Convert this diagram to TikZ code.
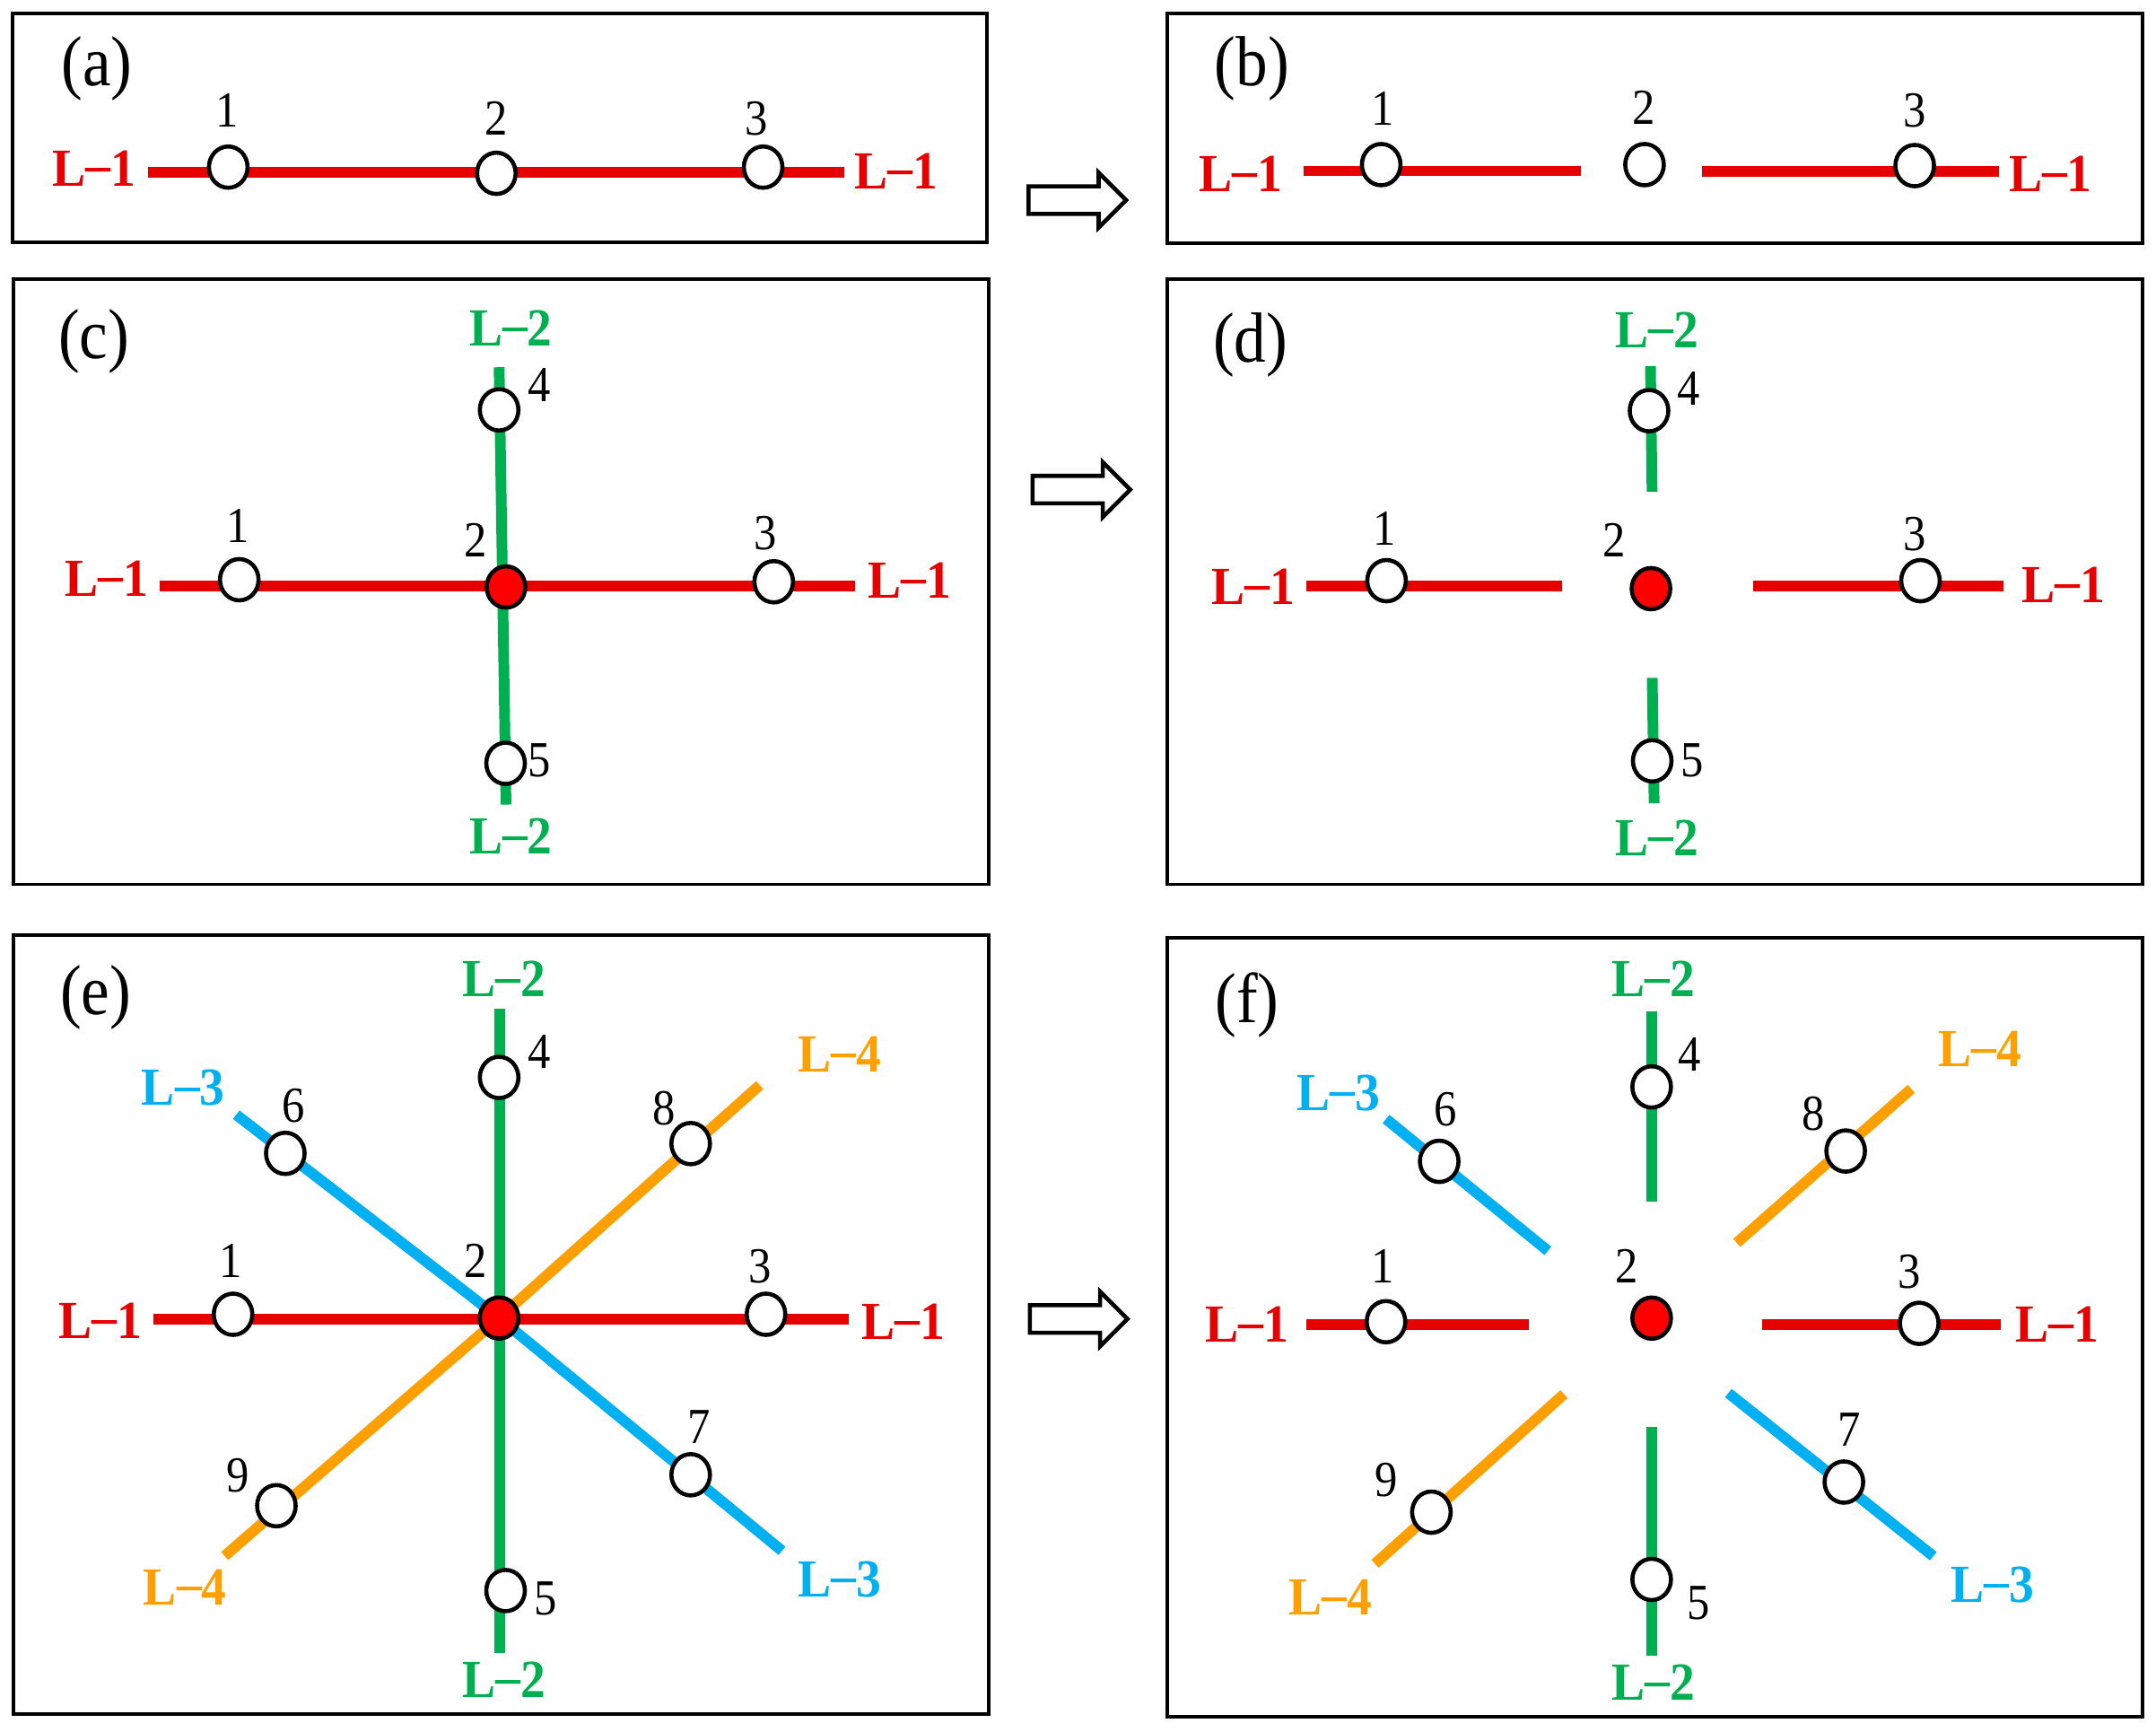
\documentclass[tikz,border=0pt]{standalone}
\usepackage{fontspec}
\setmainfont{Liberation Serif}
\newfontfamily\numfont[FakeStretch=0.9]{Liberation Serif}
\newfontfamily\labfont[FakeStretch=0.93]{Liberation Serif}
\usetikzlibrary{shapes.geometric}
\pgfdeclarelayer{bg}
\pgfdeclarelayer{paper}
\pgfsetlayers{paper,bg,main}
\definecolor{lred}{HTML}{E60000}
\definecolor{hubred}{HTML}{FF0000}
\definecolor{lgreen}{HTML}{00B050}
\definecolor{lcyan}{HTML}{00B0F0}
\definecolor{lorange}{HTML}{FF9F00}
\newcommand\Lname[1]{L\raisebox{0.06em}{–}#1}
\tikzset{
  panel/.style={draw=black, line width=1.1pt},
  vtx/.style={ellipse, draw=black, line width=1.3pt, fill=white, minimum width=0.43cm, minimum height=0.46cm, inner sep=0pt},
  hub/.style={vtx, fill=hubred},
  num/.style={inner sep=0pt, font=\numfont\fontsize{16}{18}\selectfont},
  tag/.style={inner sep=0pt, font=\numfont\fontsize{22.5}{25}\selectfont},
  lab/.style={inner sep=0pt, font=\labfont\bfseries\fontsize{17}{20}\selectfont},
  road/.style={line width=3.4pt},
  shiftarrow/.style={draw=black, line width=1.3pt, fill=white, line join=miter},
}
\begin{document}
\begin{tikzpicture}[x=0.015325cm, y=-0.015325cm]
\useasboundingbox (0,0) rectangle (1568,1259);
\begin{pgfonlayer}{paper}
\fill[white] (0,0) rectangle (1568,1259);
\end{pgfonlayer}

% ---------------- panel frames ----------------
\draw[panel] (9,10) rectangle (718,176);
\draw[panel] (849,10) rectangle (1558,177);
\draw[panel] (10,203) rectangle (719,643);
\draw[panel] (849,203) rectangle (1558,643);
\draw[panel] (10,680) rectangle (719,1246);
\draw[panel] (849,682) rectangle (1558,1248);

% ---------------- hollow arrows ----------------
\coordinate (arA) at (748,145.5);
\coordinate (arB) at (751,356);
\coordinate (arC) at (749,959);
\foreach \a in {arA,arB,arC}{
  \draw[shiftarrow] (\a) ++(0,-10) -- ++(51,0) -- ++(0,-10) -- ++(20,20) -- ++(-20,20) -- ++(0,-10) -- ++(-51,0) -- cycle;
}

% ================= (a) =================
\node[tag] (ta) at (70.5,50) {(a)};
\node[vtx] (a1) at (166,121.5) {};
\node[vtx] (a2) at (361,126) {};
\node[vtx] (a3) at (555,121.5) {};
\node[num] (na1) at (165,80.5) {1};
\node[num] (na2) at (361,86) {2};
\node[num] (na3) at (550,86) {3};
\node[lab, text=lred] (aLl) at (68.5,122.5) {\Lname{1}};
\node[lab, text=lred] (aLr) at (652,124.5) {\Lname{1}};
\coordinate (ae1) at (107.5,125);
\coordinate (ae2) at (614,125);
\begin{pgfonlayer}{bg}
\draw[road, lred] (ae1) -- (ae2);
\end{pgfonlayer}

% ================= (b) =================
\node[tag] (tb) at (910.5,50) {(b)};
\node[vtx] (b1) at (1004.5,119.7) {};
\node[vtx] (b2) at (1196,119.7) {};
\node[vtx] (b3) at (1392.5,120.4) {};
\node[num] (nb1) at (1005.5,79) {1};
\node[num] (nb2) at (1195.5,78) {2};
\node[num] (nb3) at (1392.5,80.3) {3};
\node[lab, text=lred] (bLl) at (902.3,126.3) {\Lname{1}};
\node[lab, text=lred] (bLr) at (1491.2,126.3) {\Lname{1}};
\coordinate (be1) at (948,124.3);
\coordinate (be2) at (1150,124.3);
\coordinate (be3) at (1237.5,124.8);
\coordinate (be4) at (1454,124.8);
\begin{pgfonlayer}{bg}
\draw[road, lred] (be1) -- (be2);
\draw[road, lred] (be3) -- (be4);
\end{pgfonlayer}

% ================= (c) =================
\node[tag] (tc) at (68.3,248) {(c)};
\node[vtx] (c1) at (174,421.5) {};
\node[hub] (c2) at (368,426.8) {};
\node[vtx] (c3) at (562.7,423) {};
\node[vtx] (c4) at (363,298) {};
\node[vtx] (c5) at (367.7,555) {};
\node[num] (nc1) at (172.7,382) {1};
\node[num] (nc2) at (346,392.6) {2};
\node[num] (nc3) at (557,387.6) {3};
\node[num] (nc4) at (392,279.7) {4};
\node[num] (nc5) at (392,552.8) {5};
\node[lab, text=lred] (cLl) at (77.8,420.6) {\Lname{1}};
\node[lab, text=lred] (cLr) at (661.6,422) {\Lname{1}};
\node[lab, text=lgreen] (cGt) at (371.5,238.4) {\Lname{2}};
\node[lab, text=lgreen] (cGb) at (371.5,608) {\Lname{2}};
\coordinate (ce1) at (116,426.3);
\coordinate (ce2) at (622,426.3);
\coordinate (cg1) at (363,267);
\coordinate (cg2) at (368,585);
\begin{pgfonlayer}{bg}
\draw[road, lgreen] (cg1) -- (cg2);
\draw[road, lred] (ce1) -- (ce2);
\end{pgfonlayer}

% ================= (d) =================
\node[tag] (td) at (909.3,251) {(d)};
\node[vtx] (d1) at (1008.4,422.2) {};
\node[hub] (d2) at (1200.7,428) {};
\node[vtx] (d3) at (1396.7,422.2) {};
\node[vtx] (d4) at (1199.3,298.6) {};
\node[vtx] (d5) at (1201.6,553.2) {};
\node[num] (nd1) at (1007,384) {1};
\node[num] (nd2) at (1173.7,392.8) {2};
\node[num] (nd3) at (1392.5,388.4) {3};
\node[num] (nd4) at (1228.2,282.4) {4};
\node[num] (nd5) at (1230.5,553.2) {5};
\node[lab, text=lred] (dLl) at (911.6,426.6) {\Lname{1}};
\node[lab, text=lred] (dLr) at (1500.6,425.2) {\Lname{1}};
\node[lab, text=lgreen] (dGt) at (1205,239.7) {\Lname{2}};
\node[lab, text=lgreen] (dGb) at (1205,609) {\Lname{2}};
\coordinate (de1) at (949.8,426.1);
\coordinate (de2) at (1136,426.1);
\coordinate (de3) at (1274.8,426.1);
\coordinate (de4) at (1457.3,426.1);
\coordinate (dg1) at (1200.3,266.2);
\coordinate (dg2) at (1201.5,357.5);
\coordinate (dg3) at (1201.6,492.9);
\coordinate (dg4) at (1203,584.1);
\begin{pgfonlayer}{bg}
\draw[road, lred] (de1) -- (de2);
\draw[road, lred] (de3) -- (de4);
\draw[road, lgreen] (dg1) -- (dg2);
\draw[road, lgreen] (dg3) -- (dg4);
\end{pgfonlayer}

% ================= (e) =================
\node[tag] (te) at (69.6,725) {(e)};
\node[vtx] (e1) at (169.5,955.6) {};
\node[hub] (e2) at (363,958.3) {};
\node[vtx] (e3) at (557.1,955.6) {};
\node[vtx] (e4) at (363,783.4) {};
\node[vtx] (e5) at (367.7,1156.5) {};
\node[vtx] (e6) at (207.5,838.6) {};
\node[vtx] (e7) at (502.3,1072.3) {};
\node[vtx] (e8) at (502.3,831.5) {};
\node[vtx] (e9) at (201,1094.8) {};
\node[num] (ne1) at (168,916.9) {1};
\node[num] (ne2) at (345.8,916.9) {2};
\node[num] (ne3) at (552.5,920.7) {3};
\node[num] (ne4) at (392,764.6) {4};
\node[num] (ne5) at (397,1162.5) {5};
\node[num] (ne6) at (213.6,804) {6};
\node[num] (ne7) at (508.3,1037.3) {7};
\node[num] (ne8) at (482.9,806) {8};
\node[num] (ne9) at (172.7,1073) {9};
\node[lab, text=lred] (eLl) at (72.9,960.1) {\Lname{1}};
\node[lab, text=lred] (eLr) at (657,961) {\Lname{1}};
\node[lab, text=lgreen] (eGt) at (366.8,712) {\Lname{2}};
\node[lab, text=lgreen] (eGb) at (366.8,1221.5) {\Lname{2}};
\node[lab, text=lcyan] (eCt) at (133.3,791) {\Lname{3}};
\node[lab, text=lcyan] (eCb) at (610.5,1148.2) {\Lname{3}};
\node[lab, text=lorange] (eOt) at (610.5,766.5) {\Lname{4}};
\node[lab, text=lorange] (eOb) at (134.6,1153.9) {\Lname{4}};
\coordinate (ee1) at (111.4,959.4);
\coordinate (ee2) at (617.5,959.4);
\coordinate (eg1) at (363.5,733.7);
\coordinate (eg2) at (363.5,1201.7);
\coordinate (ec1) at (171.8,810.5);
\coordinate (ec2) at (568.7,1127.6);
\coordinate (eo1) at (552.5,789);
\coordinate (eo2) at (163.4,1131.3);
\begin{pgfonlayer}{bg}
\draw[road, lcyan] (ec1) -- (e2.center) -- (ec2);
\draw[road, lorange] (eo1) -- (e2.center) -- (eo2);
\draw[road, lgreen] (eg1) -- (eg2);
\draw[road, lred] (ee1) -- (ee2);
\end{pgfonlayer}

% ================= (f) =================
\node[tag] (tf) at (907,731) {(f)};
\node[vtx] (f1) at (1008,961) {};
\node[hub] (f2) at (1201.2,958.4) {};
\node[vtx] (f3) at (1395.8,962.2) {};
\node[vtx] (f4) at (1201.2,790.3) {};
\node[vtx] (f5) at (1201.2,1148.4) {};
\node[vtx] (f6) at (1046.7,844.4) {};
\node[vtx] (f7) at (1341,1077.6) {};
\node[vtx] (f8) at (1342.3,836.9) {};
\node[vtx] (f9) at (1041,1099.5) {};
\node[num] (nf1) at (1005.6,920.8) {1};
\node[num] (nf2) at (1183,920.8) {2};
\node[num] (nf3) at (1388.8,924.5) {3};
\node[num] (nf4) at (1229,766.5) {4};
\node[num] (nf5) at (1235.2,1165.3) {5};
\node[num] (nf6) at (1051.2,806.8) {6};
\node[num] (nf7) at (1344.6,1039.3) {7};
\node[num] (nf8) at (1319,809.8) {8};
\node[num] (nf9) at (1008.4,1076) {9};
\node[lab, text=lred] (fLl) at (907,963) {\Lname{1}};
\node[lab, text=lred] (fLr) at (1496,963) {\Lname{1}};
\node[lab, text=lgreen] (fGt) at (1202.6,712) {\Lname{2}};
\node[lab, text=lgreen] (fGb) at (1202.6,1223.5) {\Lname{2}};
\node[lab, text=lcyan] (fCt) at (973.5,794.8) {\Lname{3}};
\node[lab, text=lcyan] (fCb) at (1449.3,1152) {\Lname{3}};
\node[lab, text=lorange] (fOt) at (1440,762.8) {\Lname{4}};
\node[lab, text=lorange] (fOb) at (967.4,1161.5) {\Lname{4}};
\coordinate (fe1) at (949.8,963.3);
\coordinate (fe2) at (1111.8,963.3);
\coordinate (fe3) at (1281.8,963.3);
\coordinate (fe4) at (1455.4,963.3);
\coordinate (fg1) at (1201.5,735.3);
\coordinate (fg2) at (1201.5,873.8);
\coordinate (fg3) at (1201.5,1037.4);
\coordinate (fg4) at (1201.5,1204);
\coordinate (fc1) at (1008,813.6);
\coordinate (fc2) at (1125.7,909.5);
\coordinate (fc3) at (1257,1012.9);
\coordinate (fc4) at (1406,1131.5);
\coordinate (fo1) at (1390,791.7);
\coordinate (fo2) at (1263.1,903.7);
\coordinate (fo3) at (1137.4,1013.7);
\coordinate (fo4) at (1000,1137);
\begin{pgfonlayer}{bg}
\draw[road, lred] (fe1) -- (fe2);
\draw[road, lred] (fe3) -- (fe4);
\draw[road, lgreen] (fg1) -- (fg2);
\draw[road, lgreen] (fg3) -- (fg4);
\draw[road, lcyan] (fc1) -- (fc2);
\draw[road, lcyan] (fc3) -- (fc4);
\draw[road, lorange] (fo1) -- (fo2);
\draw[road, lorange] (fo3) -- (fo4);
\end{pgfonlayer}
\end{tikzpicture}
\end{document}
